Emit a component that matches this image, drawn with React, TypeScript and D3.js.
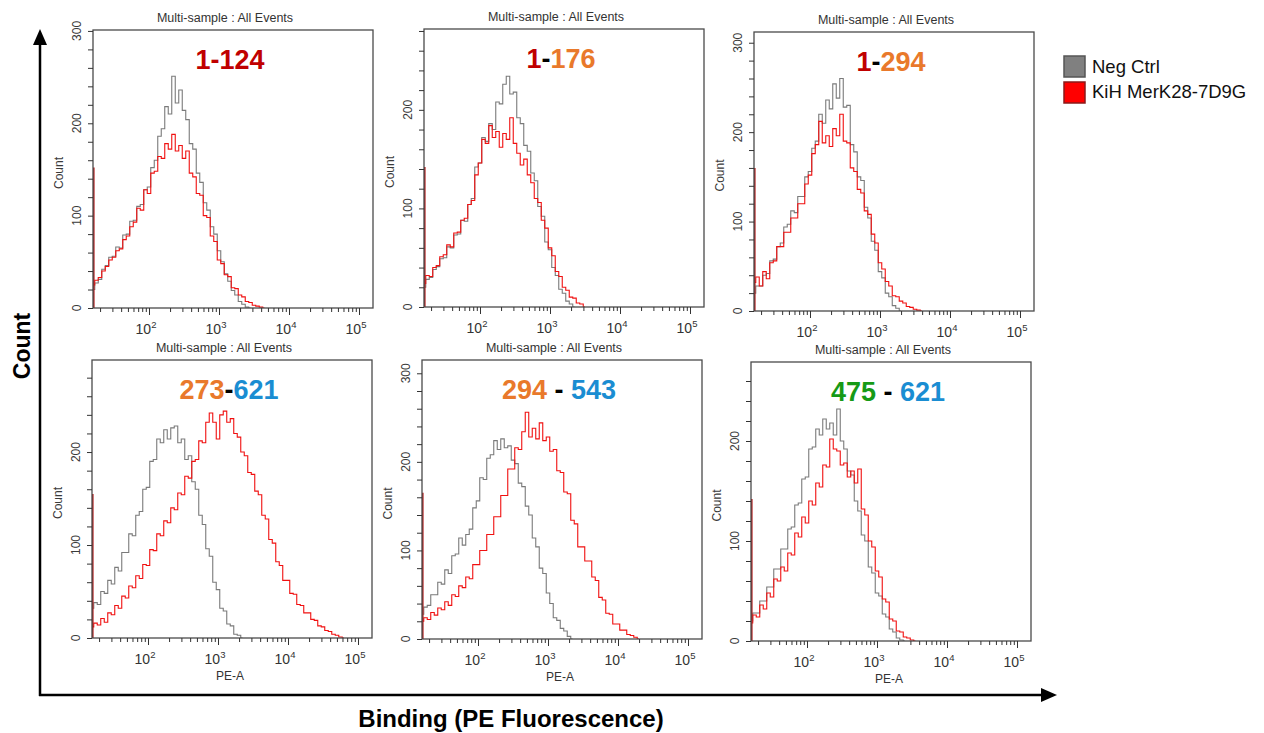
import React, { useEffect, useRef } from "react";
import * as d3 from "d3";

// histogram bins: log10(PE-A) of the first bin and the bin width
const LOG_START = 1.2;
const LOG_STEP = 0.05;

// counts per bin (Neg Ctrl = gray, KiH MerK28-7D9G = red)
const negCtrl1 = [20, 27, 31, 42, 46, 55, 56, 66, 65, 79, 80, 94, 95, 110, 112, 128, 131, 152, 160, 186, 194, 218, 210, 251, 222, 236, 214, 204, 178, 172, 146, 136, 114, 106, 88, 80, 62, 50, 37, 29, 19, 14, 7, 4, 1, 0];
const kih1 = [25, 30, 33, 40, 45, 52, 55, 62, 64, 74, 78, 88, 93, 108, 106, 128, 124, 146, 148, 164, 162, 178, 172, 188, 170, 176, 162, 170, 146, 142, 124, 122, 100, 98, 78, 72, 52, 48, 36, 34, 22, 21, 14, 12, 7, 6, 3, 2, 1, 0];

const negCtrl2 = [20, 28, 30, 38, 41, 49, 50, 61, 60, 73, 74, 88, 87, 104, 110, 142, 146, 172, 168, 186, 180, 208, 206, 226, 234, 216, 218, 192, 186, 164, 158, 136, 128, 102, 92, 66, 58, 40, 32, 18, 14, 6, 3, 0];
const kih2 = [24, 32, 31, 40, 42, 51, 53, 63, 61, 75, 76, 88, 90, 104, 108, 134, 146, 170, 166, 184, 172, 178, 162, 176, 170, 192, 166, 156, 144, 150, 134, 126, 110, 106, 88, 80, 60, 52, 36, 31, 20, 17, 10, 9, 4, 3, 0];

const negCtrl3 = [20, 28, 28, 40, 42, 56, 58, 72, 76, 94, 97, 112, 110, 128, 128, 150, 156, 182, 190, 220, 210, 236, 226, 254, 238, 260, 228, 230, 186, 178, 150, 146, 116, 104, 78, 68, 44, 37, 20, 16, 6, 3, 0];
const kih3 = [32, 38, 28, 44, 36, 54, 56, 72, 72, 88, 88, 104, 104, 120, 120, 142, 152, 176, 186, 212, 188, 196, 184, 204, 196, 220, 190, 188, 160, 156, 136, 132, 112, 108, 86, 76, 54, 47, 33, 28, 17, 16, 11, 9, 5, 4, 2, 1, 0];

const negCtrl4 = [32, 38, 36, 50, 48, 62, 58, 76, 72, 92, 92, 112, 110, 132, 136, 160, 162, 190, 192, 214, 210, 224, 214, 226, 228, 210, 214, 192, 196, 168, 160, 132, 122, 96, 88, 60, 52, 32, 29, 15, 13, 4, 3, 0];
const kih4 = [12, 16, 14, 21, 17, 27, 25, 35, 32, 45, 43, 56, 54, 67, 64, 79, 78, 95, 94, 112, 110, 126, 124, 140, 138, 156, 154, 174, 172, 190, 192, 212, 210, 232, 242, 232, 214, 240, 244, 232, 236, 220, 216, 200, 196, 178, 176, 158, 154, 132, 128, 106, 102, 82, 78, 62, 62, 48, 47, 36, 35, 27, 27, 20, 19, 13, 12, 8, 7, 4, 3, 1, 0];

const negCtrl5 = [28, 36, 38, 50, 50, 64, 62, 78, 74, 94, 96, 114, 106, 118, 124, 148, 156, 182, 180, 204, 208, 224, 214, 226, 216, 218, 202, 198, 176, 172, 150, 140, 114, 104, 80, 74, 52, 40, 24, 21, 12, 9, 3, 0];
const kih5 = [20, 24, 22, 30, 27, 35, 33, 42, 38, 50, 48, 60, 58, 70, 68, 84, 84, 100, 100, 118, 118, 138, 138, 162, 162, 192, 192, 216, 214, 234, 256, 228, 238, 226, 244, 224, 228, 212, 214, 190, 188, 166, 164, 134, 130, 104, 104, 88, 88, 70, 66, 47, 44, 29, 28, 17, 17, 10, 10, 5, 4, 2, 0];

const negCtrl6 = [20, 28, 28, 40, 40, 54, 54, 72, 72, 92, 92, 112, 114, 136, 138, 162, 164, 192, 194, 212, 206, 222, 212, 218, 206, 232, 200, 192, 170, 166, 140, 130, 106, 100, 74, 68, 48, 45, 27, 24, 12, 9, 3, 1, 0];
const kih6 = [18, 26, 24, 36, 32, 48, 44, 62, 60, 74, 70, 88, 86, 108, 104, 124, 118, 140, 136, 158, 154, 176, 174, 202, 192, 190, 176, 178, 164, 170, 158, 172, 132, 126, 100, 94, 70, 64, 42, 39, 22, 20, 10, 9, 4, 3, 1, 0];

// off-scale events piled in the first channel (red spike on the left edge)
const kihEdge = [152, 142, 160, 155, 165, 142];

const negCtrl = [negCtrl1, negCtrl2, negCtrl3, negCtrl4, negCtrl5, negCtrl6];
const kih = [kih1, kih2, kih3, kih4, kih5, kih6];

// sample labels: [text, colour] pieces
const DARKRED = "#c00000", ORANGE = "#e9792b", BLUE = "#1a8dd2", GREEN = "#169a16", BLACK = "#000";
const sampleLabels = [
  [["1-124", DARKRED]],
  [["1", DARKRED], ["-", BLACK], ["176", ORANGE]],
  [["1", DARKRED], ["-", BLACK], ["294", ORANGE]],
  [["273", ORANGE], ["-", BLACK], ["621", BLUE]],
  [["294", ORANGE], [" - ", BLACK], ["543", BLUE]],
  [["475", GREEN], [" - ", BLACK], ["621", BLUE]],
];

const plotTitle = "Multi-sample : All Events";
const xAxisName = "PE-A";
const yAxisName = "Count";
const xMajorExp = [2, 3, 4, 5];
const legendNames = ["Neg Ctrl", "KiH MerK28-7D9G"];
const legendColors = ["#808080", "#ff0000"];
const legendBorders = ["#555", "#8a1a1a"];

// panel frames (layout only)
const frames = [
  { left: 93, top: 30, bottom: 308, yMax: 301, showX: false },
  { left: 424, top: 29, bottom: 307, yMax: 282, showX: false },
  { left: 754, top: 32, bottom: 311, yMax: 312, showX: false },
  { left: 92, top: 360, bottom: 638, yMax: 299, showX: true },
  { left: 422, top: 360, bottom: 639, yMax: 315, showX: true },
  { left: 751, top: 362, bottom: 641, yMax: 279, showX: true },
];
const PW = 280;
const FONT = "Arial, 'Liberation Sans', Helvetica, sans-serif";

function App() {
  const ref = useRef(null);

  useEffect(() => {
    const svg = d3.select(ref.current);
    svg.selectAll("*").remove();
    svg.append("rect").attr("width", 1264).attr("height", 733).attr("fill", "#fff");

    frames.forEach((f, p) => {
      const g = svg.append("g");
      const x = d3.scaleLog().domain([10 ** 1.2, 10 ** 5.2]).range([f.left, f.left + PW]);
      const y = d3.scaleLinear().domain([0, f.yMax]).range([f.bottom, f.top]);

      const clipId = "clip" + p;
      g.append("clipPath").attr("id", clipId).append("rect")
        .attr("x", f.left).attr("y", f.top - 2).attr("width", PW).attr("height", f.bottom - f.top + 2);

      const line = d3.line<number>()
        .x((d, i) => x(10 ** (LOG_START + i * LOG_STEP)))
        .y(d => y(d))
        .curve(d3.curveStep);

      const plot = g.append("g").attr("clip-path", `url(#${clipId})`);
      plot.append("path").datum(negCtrl[p]).attr("d", line).attr("fill", "none")
        .attr("stroke", "#7a7a7a").attr("stroke-width", 1.1);
      plot.append("path").datum(kih[p]).attr("d", line).attr("fill", "none")
        .attr("stroke", "#f01010").attr("stroke-width", 1.1);
      plot.append("line")
        .attr("x1", x.range()[0] + 0.8).attr("x2", x.range()[0] + 0.8)
        .attr("y1", y(0)).attr("y2", y(kihEdge[p]))
        .attr("stroke", "#b52020").attr("stroke-width", 1.6);

      // frame
      g.append("rect").attr("x", f.left).attr("y", f.top).attr("width", PW).attr("height", f.bottom - f.top)
        .attr("fill", "none").attr("stroke", "#4a4a4a").attr("stroke-width", 1.3);

      // y axis
      const yTicks = d3.range(0, f.yMax + 0.1, 20);
      const yAxis = g.append("g").attr("transform", `translate(${f.left},0)`)
        .call(d3.axisLeft(y).tickValues(yTicks).tickSize(5).tickFormat(() => ""));
      yAxis.select(".domain").remove();
      yAxis.selectAll("line").attr("stroke", "#333");
      yTicks.filter(v => v % 100 === 0).forEach(v => {
        g.append("text").attr("transform", `translate(${f.left - 12},${y(v)}) rotate(-90)`)
          .attr("text-anchor", "middle").attr("font-family", FONT).attr("font-size", 12)
          .attr("fill", "#3a3a3a").text(String(v));
      });
      g.append("text").attr("transform", `translate(${f.left - 30},${(f.top + f.bottom) / 2 + 4}) rotate(-90)`)
        .attr("text-anchor", "middle").attr("font-family", FONT).attr("font-size", 12)
        .attr("fill", "#3a3a3a").text(yAxisName);

      // x axis
      const minor = [];
      [1, 2, 3, 4].forEach(k => d3.range(2, 10).forEach(m => {
        const v = m * 10 ** k;
        if (v > x.domain()[0] && v < x.domain()[1]) minor.push(v);
      }));
      const xMinor = g.append("g").attr("transform", `translate(0,${f.bottom})`)
        .call(d3.axisBottom(x).tickValues(minor).tickSize(4).tickFormat(() => ""));
      xMinor.select(".domain").remove();
      xMinor.selectAll("line").attr("stroke", "#333");
      const majors = xMajorExp.map(e => 10 ** e);
      const xMajor = g.append("g").attr("transform", `translate(0,${f.bottom})`)
        .call(d3.axisBottom(x).tickValues(majors).tickSize(7).tickFormat(() => ""));
      xMajor.select(".domain").remove();
      xMajor.selectAll("line").attr("stroke", "#333");
      xMajorExp.forEach(e => {
        const t = g.append("text").attr("x", x(10 ** e) - 3).attr("y", f.bottom + 26)
          .attr("text-anchor", "middle").attr("font-family", FONT).attr("font-size", 14).attr("fill", "#333");
        t.append("tspan").text("10");
        t.append("tspan").attr("dy", -6).attr("font-size", 9.5).text(String(e));
      });
      if (f.showX) {
        g.append("text").attr("x", f.left + 138).attr("y", f.bottom + 42)
          .attr("text-anchor", "middle").attr("font-family", FONT).attr("font-size", 12).attr("fill", "#333")
          .text(xAxisName);
      }

      // titles
      g.append("text").attr("x", f.left + 132).attr("y", f.top - 8)
        .attr("text-anchor", "middle").attr("font-family", FONT).attr("font-size", 12.5).attr("fill", "#333")
        .text(plotTitle);
      const lab = g.append("text").attr("x", f.left + 137).attr("y", f.top + 39)
        .attr("text-anchor", "middle").attr("font-family", FONT).attr("font-size", 27).attr("font-weight", "bold");
      sampleLabels[p].forEach(([t, c]) => lab.append("tspan").attr("fill", c).attr("xml:space", "preserve").text(t));
    });

    // big axes
    const axG = svg.append("g");
    axG.append("line").attr("x1", 40).attr("x2", 40).attr("y1", 696).attr("y2", 44)
      .attr("stroke", "#000").attr("stroke-width", 2.5);
    axG.append("path").attr("d", "M40,29 L33,45 L47,45 Z").attr("fill", "#000");
    axG.append("line").attr("x1", 39).attr("x2", 1042).attr("y1", 695).attr("y2", 695)
      .attr("stroke", "#000").attr("stroke-width", 2.5);
    axG.append("path").attr("d", "M1057,695 L1041,688 L1041,702 Z").attr("fill", "#000");
    axG.append("text").attr("transform", "translate(30,346) rotate(-90)").attr("text-anchor", "middle")
      .attr("font-family", FONT).attr("font-size", 23).attr("font-weight", "bold").text("Count");
    axG.append("text").attr("x", 511).attr("y", 727).attr("text-anchor", "middle")
      .attr("font-family", FONT).attr("font-size", 24).attr("font-weight", "bold").text("Binding (PE Fluorescence)");

    // legend
    legendNames.forEach((n, i) => {
      svg.append("rect").attr("x", 1064).attr("y", 56 + i * 26).attr("width", 21).attr("height", 21)
        .attr("fill", legendColors[i]).attr("stroke", legendBorders[i]).attr("stroke-width", 1.5);
      svg.append("text").attr("x", 1092).attr("y", 73 + i * 25).attr("font-family", FONT)
        .attr("font-size", 18.5).attr("fill", "#111").text(n);
    });
  }, []);

  return (
    <svg ref={ref} width={1264} height={733}
      style={{ position: "absolute", left: 0, top: 0, display: "block" }} />
  );
}

export default App;
